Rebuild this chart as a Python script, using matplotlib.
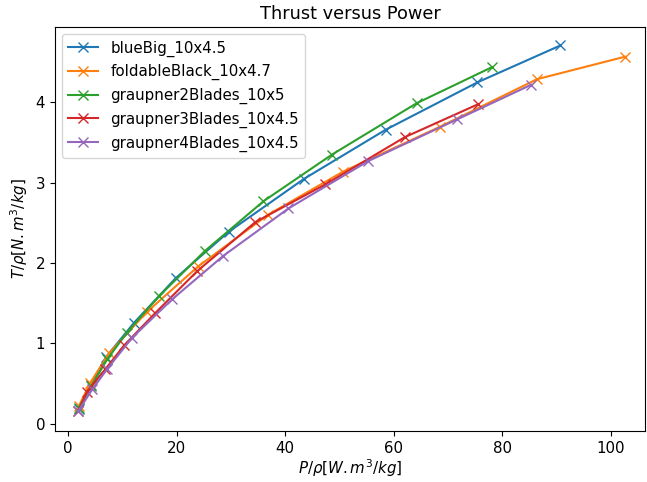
import numpy as np
import matplotlib
matplotlib.use('Agg')
import matplotlib.pyplot as plt

# propeller data: P/rho and T/rho
names = ['blueBig_10x4.5', 'foldableBlack_10x4.7', 'graupner2Blades_10x5',
         'graupner3Blades_10x4.5', 'graupner4Blades_10x4.5']

p_blue = [2.0, 4.2, 7.0, 12.2, 19.8, 29.6, 43.5, 58.5, 75.4, 90.7]
t_blue = [0.18, 0.48, 0.83, 1.26, 1.81, 2.39, 3.05, 3.66, 4.25, 4.71]

p_orange = [2.0, 4.1, 7.6, 14.5, 24.0, 36.8, 50.7, 68.6, 86.4, 102.6]
t_orange = [0.22, 0.51, 0.88, 1.39, 1.96, 2.60, 3.14, 3.70, 4.29, 4.57]

p_green = [2.0, 4.3, 7.2, 10.8, 16.8, 25.2, 36.0, 48.6, 64.2, 78.1]
t_green = [0.20, 0.47, 0.80, 1.13, 1.59, 2.15, 2.77, 3.35, 3.99, 4.44]

p_red = [1.9, 3.5, 6.9, 10.4, 16.1, 23.8, 34.5, 47.4, 62.1, 75.6]
t_red = [0.16, 0.40, 0.68, 0.98, 1.38, 1.90, 2.51, 2.98, 3.57, 3.98]

p_purple = [1.9, 4.5, 7.2, 11.8, 19.2, 28.6, 40.6, 55.3, 71.7, 85.3]
t_purple = [0.16, 0.43, 0.68, 1.07, 1.55, 2.09, 2.68, 3.27, 3.79, 4.22]

P = [p_blue, p_orange, p_green, p_red, p_purple]
T = [t_blue, t_orange, t_green, t_red, t_purple]

plt.rcParams['font.size'] = 10.8

fig = plt.figure(figsize=(6.47, 4.82), dpi=100)
ax = fig.gca()
for name, p, t in zip(names, P, T):
  ax.plot(p, t, marker='x', markersize=7.5, linewidth=1.5, label=name)

ax.set_title('Thrust versus Power', fontsize=12.8)
ax.set_xlabel(r'$P/\rho [W.m^3/kg]$', labelpad=1.5)
ax.set_ylabel(r'$T/\rho [N.m^3/kg]$')
ax.legend(loc='upper left')

ax.set_xlim(-2.4, 106.3)
ax.set_ylim(-0.09, 4.94)

fig.subplots_adjust(left=0.085, right=0.997, top=0.944, bottom=0.106)
fig.savefig('out.png', dpi=100)
plt.close()
